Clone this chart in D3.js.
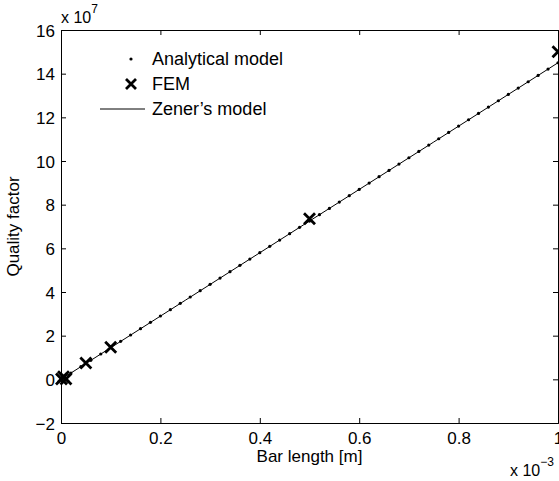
<!DOCTYPE html>
<html>
<head>
<meta charset="utf-8">
<script src="https://cdn.jsdelivr.net/npm/d3@7"></script>
<style>
  body { margin: 0; background: #fff; }
  svg { display: block; }
  text { font-family: "Liberation Sans", Arial, Helvetica, sans-serif; fill: #000; }
</style>
</head>
<body>
<script>
// bar length in units of 1e-3 m, quality factor in units of 1e7
const analyticalLength = [0, 0.02, 0.04, 0.06, 0.08, 0.1, 0.12, 0.14, 0.16, 0.18, 0.2, 0.22, 0.24, 0.26, 0.28, 0.3, 0.32, 0.34, 0.36, 0.38, 0.4, 0.42, 0.44, 0.46, 0.48, 0.5, 0.52, 0.54, 0.56, 0.58, 0.6, 0.62, 0.64, 0.66, 0.68, 0.7, 0.72, 0.74, 0.76, 0.78, 0.8, 0.82, 0.84, 0.86, 0.88, 0.9, 0.92, 0.94, 0.96, 0.98, 1];
const analyticalQ = [0, 0.29, 0.58, 0.87, 1.16, 1.45, 1.74, 2.03, 2.32, 2.61, 2.9, 3.19, 3.48, 3.77, 4.06, 4.35, 4.64, 4.93, 5.22, 5.51, 5.8, 6.09, 6.38, 6.67, 6.96, 7.25, 7.54, 7.83, 8.12, 8.41, 8.7, 8.99, 9.28, 9.57, 9.86, 10.15, 10.44, 10.73, 11.02, 11.31, 11.6, 11.89, 12.18, 12.47, 12.76, 13.05, 13.34, 13.63, 13.92, 14.21, 14.5];
const femLength = [0.001, 0.005, 0.01, 0.05, 0.1, 0.5, 1];
const femQ = [0.02, 0.12, 0.02, 0.75, 1.47, 7.35, 15.0];
const zenerLength = [0, 0.25, 0.5, 0.75, 1];
const zenerQ = [0, 3.62, 7.25, 10.87, 14.5];

const xTicks = [0, 0.2, 0.4, 0.6, 0.8, 1];
const yTicks = [-2, 0, 2, 4, 6, 8, 10, 12, 14, 16];
const legendLabels = ["Analytical model", "FEM", "Zener\u2019s model"];

const W = 559, H = 481;
const pLeft = 61, pRight = 558, pTop = 30, pBottom = 423;
const fsTick = 17, fsLabel = 18;

const svg = d3.select("body").append("svg")
    .attr("width", W)
    .attr("height", H);

const x = d3.scaleLinear().domain([0, 1]).range([pLeft, pRight]);
const y = d3.scaleLinear().domain([-2, 16]).range([pBottom, pTop]);

// Zener line
const line = d3.line().x(d => x(d[0])).y(d => y(d[1]));
svg.append("path")
    .datum(zenerLength.map((l, i) => [l, zenerQ[i]]))
    .attr("d", line)
    .attr("fill", "none")
    .attr("stroke", "#000")
    .attr("stroke-width", 1);

// analytical dots
svg.selectAll(".dot")
    .data(analyticalLength.map((l, i) => [l, analyticalQ[i]]))
    .enter()
    .append("circle")
    .attr("class", "dot")
    .attr("cx", d => x(d[0]))
    .attr("cy", d => y(d[1]))
    .attr("r", 1.6)
    .attr("fill", "#000");

// FEM crosses
function cross(g, cx, cy, s) {
    g.append("path")
        .attr("d", `M${cx - s},${cy - s}L${cx + s},${cy + s}M${cx - s},${cy + s}L${cx + s},${cy - s}`)
        .attr("stroke", "#000")
        .attr("stroke-width", 2.8)
        .attr("fill", "none");
}
const fem = svg.append("g");
femLength.forEach((l, i) => cross(fem, x(l), y(femQ[i]), 5.5));

// axes box
const xAxisB = d3.axisBottom(x).tickValues(xTicks).tickSize(-5).tickPadding(9)
    .tickFormat(d => d === 0 || d === 1 ? String(d) : d3.format(".1f")(d));
const gx = svg.append("g").attr("transform", `translate(0,${pBottom})`).call(xAxisB);
const gxt = svg.append("g").attr("transform", `translate(0,${pTop})`)
    .call(d3.axisTop(x).tickValues(xTicks).tickSize(-5).tickFormat(""));
const gy = svg.append("g").attr("transform", `translate(${pLeft},0)`)
    .call(d3.axisLeft(y).tickValues(yTicks).tickSize(-5).tickPadding(6)
        .tickFormat(d => d < 0 ? "\u2212" + Math.abs(d) : String(d)));
const gyr = svg.append("g").attr("transform", `translate(${pRight},0)`)
    .call(d3.axisRight(y).tickValues(yTicks).tickSize(-5).tickFormat(""));

[gx, gxt, gy, gyr].forEach(g => {
    g.select(".domain").attr("stroke", "#000").attr("stroke-width", 1);
    g.selectAll(".tick line").attr("stroke", "#000");
    g.selectAll("text")
        .style("font-family", "'Liberation Sans', Arial, sans-serif")
        .style("font-size", fsTick + "px")
        .attr("fill", "#000");
});
gy.selectAll("text").attr("dy", "0.36em");

// exponent labels
const ex = svg.append("text").attr("x", pLeft).attr("y", 23).style("font-size", "16px");
ex.append("tspan").text("x 10");
ex.append("tspan").attr("dy", -10).style("font-size", "12px").text("7");

const ex3 = svg.append("text").attr("x", 510).attr("y", 476).style("font-size", "16px");
ex3.append("tspan").text("x 10");
ex3.append("tspan").attr("dy", -10).style("font-size", "12px").text("\u22123");

// axis titles
svg.append("text")
    .attr("x", (pLeft + pRight) / 2)
    .attr("y", 462)
    .attr("text-anchor", "middle")
    .style("font-size", fsTick + "px")
    .text("Bar length [m]");

svg.append("text")
    .attr("transform", `translate(19,${(pTop + pBottom) / 2}) rotate(-90)`)
    .attr("text-anchor", "middle")
    .style("font-size", fsTick + "px")
    .text("Quality factor");

// legend
const legY = [59, 84, 109];
const leg = svg.append("g");
leg.append("circle").attr("cx", 131).attr("cy", legY[0]).attr("r", 1.6).attr("fill", "#000");
cross(leg, 131, legY[1], 5);
leg.append("line").attr("x1", 100).attr("x2", 145).attr("y1", legY[2]).attr("y2", legY[2])
    .attr("stroke", "#000").attr("stroke-width", 1);
leg.selectAll("text")
    .data(legendLabels)
    .enter()
    .append("text")
    .attr("x", 152)
    .attr("y", (d, i) => legY[i] + 6)
    .style("font-size", fsLabel + "px")
    .text(d => d);
</script>
</body>
</html>
